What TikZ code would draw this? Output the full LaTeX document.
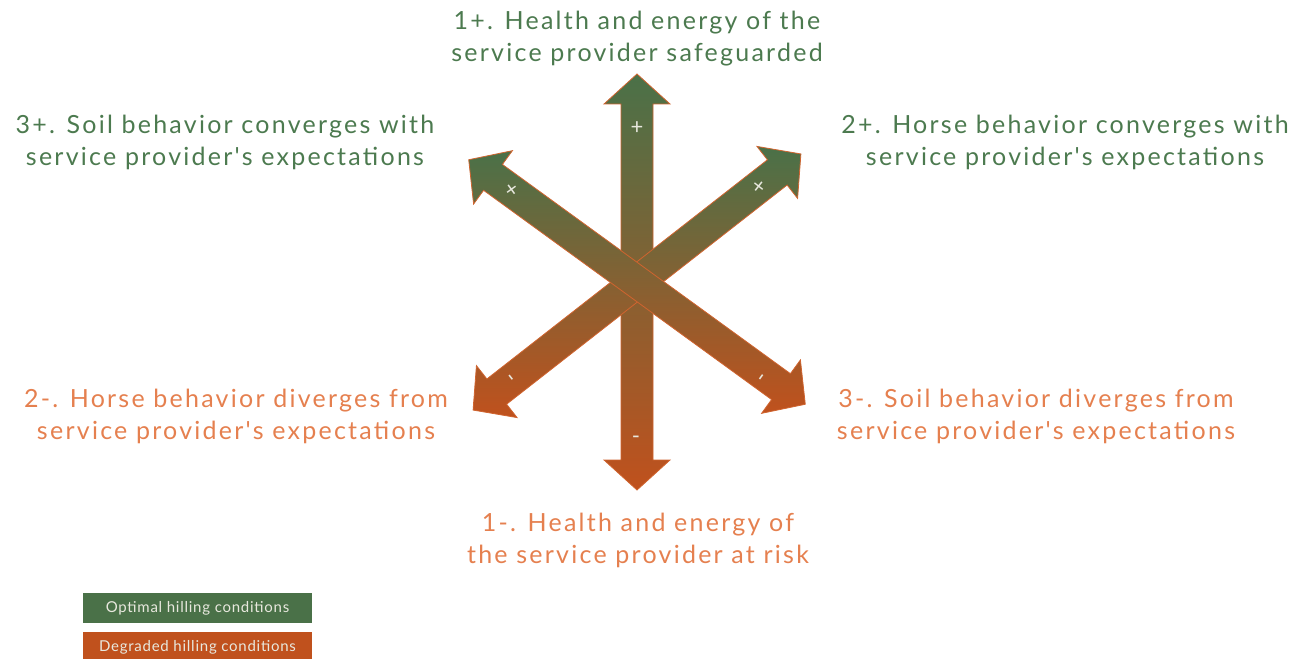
\documentclass[tikz,border=0pt]{standalone}
\usepackage{fontspec}
\setmainfont{Lato}
\newfontfamily\lblfont[LetterSpace=9]{Lato}
\newfontfamily\keyfont[LetterSpace=5]{Lato}
\definecolor{hillgreen}{HTML}{4A7148}
\definecolor{hillorange}{HTML}{C0511D}
\definecolor{txtgreen}{HTML}{4C7A4F}
\definecolor{txtorange}{HTML}{E5804F}
\definecolor{edgeorange}{HTML}{D0642F}
\definecolor{marktext}{HTML}{E8E8DE}
\tikzset{
  bigarrow/.style={draw=edgeorange, line width=0.8pt, top color=hillgreen, bottom color=hillorange},
  goodlbl/.style={text=txtgreen, align=center, font=\lblfont\fontsize{25}{32}\selectfont},
  badlbl/.style={text=txtorange, align=center, font=\lblfont\fontsize{25}{32}\selectfont},
  signmark/.style={text=marktext, inner sep=0pt, font=\fontsize{22}{22}\selectfont},
  legendbox/.style={text=marktext, minimum width=229pt, minimum height=30pt, inner sep=0pt, font=\keyfont\fontsize{15}{15}\selectfont}
}
\begin{document}
\begin{tikzpicture}[x=1pt, y=-1pt]
\useasboundingbox (0,0) rectangle (1297,658);

% the three double arrows
\draw[bigarrow, shift={(637,282)}, rotate=90]
  (-208,0) -- (-178,33) -- (-178,16) -- (178,16) -- (178,33) -- (208,0)
  -- (178,-33) -- (178,-16) -- (-178,-16) -- (-178,-33) -- cycle;
\draw[bigarrow, shift={(637,282)}, rotate=38]
  (-208,0) -- (-178,33) -- (-178,16) -- (178,16) -- (178,33) -- (208,0)
  -- (178,-33) -- (178,-16) -- (-178,-16) -- (-178,-33) -- cycle;
\draw[bigarrow, shift={(637,282)}, rotate=-36]
  (-208,0) -- (-178,33) -- (-178,16) -- (178,16) -- (178,33) -- (208,0)
  -- (178,-33) -- (178,-16) -- (-178,-16) -- (-178,-33) -- cycle;

% signs on the arrows
\node[signmark] (plusup) at (637,128) {+};
\node[signmark] (minusdown) at (636,440) {-};
\node[signmark, rotate=36] (plusnw) at (512,191) {+};
\node[signmark, rotate=-38] (plusne) at (758,187) {+};
\node[signmark, rotate=-52] (minussw) at (509,379) {-};
\node[signmark, rotate=54] (minusse) at (764,379) {-};

% labels
\node[goodlbl] (healthup) at (637,39) {1+. Health and energy of the\\service provider safeguarded};
\node[goodlbl] (soilup) at (225,142) {3+. Soil behavior converges with\\service provider's expectations};
\node[goodlbl] (horseup) at (1065,142) {2+. Horse behavior converges with\\service provider's expectations};
\node[badlbl] (horsedown) at (236,416) {2-. Horse behavior diverges from\\service provider's expectations};
\node[badlbl] (soildown) at (1036,416) {3-. Soil behavior diverges from\\service provider's expectations};
\node[badlbl] (healthdown) at (638,540) {1-. Health and energy of\\the service provider at risk};

% legend
\node[legendbox, fill=hillgreen] (optimal) at (197.5,608) {Optimal hilling conditions};
\node[legendbox, fill=hillorange, anchor=north] (degraded) at (197.5,632) {Degraded hilling conditions};
\end{tikzpicture}
\end{document}
